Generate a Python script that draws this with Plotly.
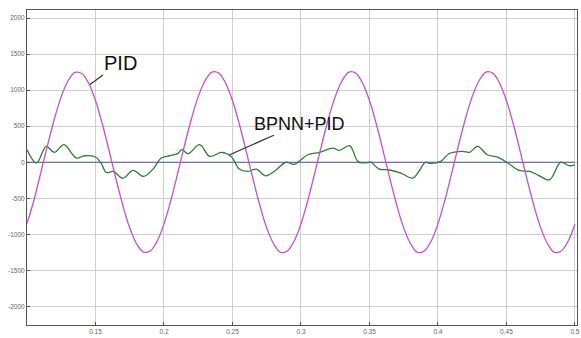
import plotly.graph_objects as go

# PID response
pid_t = [round(0.1 + 0.005 * k, 3) for k in range(81)]
pid_v = [-850, -530, -150, 235, 600, 910, 1130, 1245, 1230, 1095,
         855, 530, 155, -235, -600, -910, -1130, -1245, -1230, -1095,
         -855, -530, -155, 235, 600, 910, 1130, 1250, 1235, 1095,
         855, 530, 155, -235, -600, -910, -1130, -1250, -1230, -1095,
         -855, -530, -155, 235, 600, 910, 1130, 1250, 1235, 1095,
         855, 530, 155, -235, -600, -910, -1130, -1250, -1230, -1095,
         -855, -530, -155, 235, 600, 910, 1130, 1250, 1235, 1095,
         855, 530, 155, -235, -600, -910, -1130, -1250, -1230, -1095,
         -860]

# BPNN+PID response
bp_t = [0.100, 0.107, 0.114, 0.120, 0.127, 0.136, 0.142, 0.150, 0.154, 0.158,
        0.163, 0.170, 0.1775, 0.185, 0.192, 0.198, 0.204, 0.210, 0.213, 0.2176,
        0.226, 0.2334, 0.242, 0.249, 0.255, 0.261, 0.2675, 0.274, 0.282, 0.289,
        0.295, 0.305, 0.3136, 0.3233, 0.328, 0.3355, 0.3415, 0.346, 0.351, 0.357,
        0.3634, 0.373, 0.3816, 0.391, 0.3938, 0.402, 0.408, 0.418, 0.423, 0.429,
        0.436, 0.4435, 0.451, 0.4594, 0.467, 0.4727, 0.4813, 0.4897, 0.4958, 0.500]
bp_v = [174, -10, 220, 137, 243, 58, 90, 72, -10, -142,
        -128, -220, -114, -197, -95, 58, 90, 120, 174, 118,
        243, 81, 137, 81, -95, -128, -95, -188, -104, 0,
        -30, 104, 137, 197, 164, 229, 12, -10, 0, -95,
        -104, -150, -220, 0, -15, 12, 118, 150, 137, 220,
        104, 72, -10, -114, -128, -174, -243, 0, -48, -35]

x_ticks = [0.15, 0.2, 0.25, 0.3, 0.35, 0.4, 0.45, 0.5]
x_labels = ["0.15", "0.2", "0.25", "0.3", "0.35", "0.4", "0.45", "0.5"]
y_ticks = [-2000, -1500, -1000, -500, 0, 500, 1000, 1500, 2000]
y_labels = ["-2000", "-1500", "-1000", "-500", "0", "500", "1000", "1500", "2000"]

fig = go.Figure()
fig.add_trace(go.Scatter(x=[pid_t[0], pid_t[-1]], y=[0, 0], mode="lines",
                         line=dict(color="#5252a8", width=1.2), hoverinfo="skip"))
fig.add_trace(go.Scatter(x=bp_t, y=bp_v, mode="lines", name="BPNN+PID",
                         line=dict(color="#2f7d32", width=1.3, shape="spline", smoothing=1.0)))
fig.add_trace(go.Scatter(x=pid_t, y=pid_v, mode="lines", name="PID",
                         line=dict(color="#c44fcf", width=1.3, shape="spline", smoothing=1.0)))

fig.add_annotation(x=0.146, y=1077, text="PID", showarrow=True, arrowhead=0,
                   arrowwidth=1.3, arrowcolor="#333", ax=30, ay=-22, standoff=0,
                   font=dict(family="Liberation Sans, Arial, sans-serif", size=20, color="#111"))
fig.add_annotation(x=0.248, y=104, text="BPNN+PID", showarrow=True, arrowhead=0,
                   arrowwidth=1.3, arrowcolor="#333", ax=70, ay=-31, standoff=0,
                   font=dict(family="Liberation Sans, Arial, sans-serif", size=18, color="#111"))

axis_common = dict(showgrid=True, gridcolor="#cfcfcf", gridwidth=1, zeroline=False,
                   showline=True, linecolor="#555", linewidth=1, mirror=True,
                   ticks="inside", ticklen=3, tickcolor="#555", automargin=False,
                   tickfont=dict(family="Liberation Sans, Arial, sans-serif", size=6.5, color="#666"))
fig.update_xaxes(range=[0.1, 0.5015], tickvals=x_ticks, ticktext=x_labels, **axis_common)
fig.update_yaxes(range=[-2257, 2111], tickvals=y_ticks, ticktext=y_labels, **axis_common)

fig.update_layout(width=581, height=338, margin=dict(l=27, r=4, t=10, b=13),
                  paper_bgcolor="white", plot_bgcolor="white", showlegend=False)

fig.write_html("out.html", config={"displayModeBar": False},
               post_script="document.body.style.margin='0';document.body.style.overflow='hidden';")
